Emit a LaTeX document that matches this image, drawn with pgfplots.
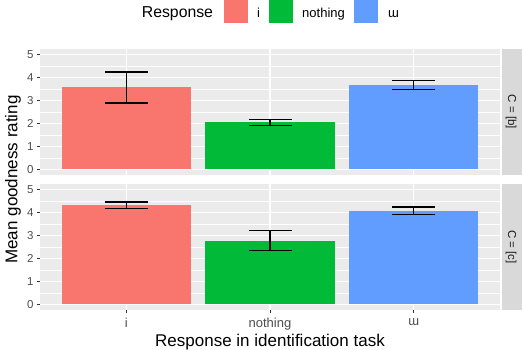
\documentclass[border=0pt]{standalone}
\usepackage{fontspec}
\setmainfont{Liberation Sans}
\usepackage{pgfplots}
\pgfplotsset{compat=1.18}
\definecolor{cI}{HTML}{F8766D}
\definecolor{cN}{HTML}{00BA38}
\definecolor{cU}{HTML}{619CFF}
\definecolor{panelbg}{HTML}{EBEBEB}
\definecolor{stripbg}{HTML}{D9D9D9}
\definecolor{ticklab}{HTML}{4D4D4D}
\definecolor{tickcol}{HTML}{333333}
\definecolor{striptext}{HTML}{1A1A1A}
\pgfplotsset{
  facet/.style={
    scale only axis, width=460pt, height=126pt,
    xmin=0.4, xmax=3.6, ymin=-0.25, ymax=5.25,
    axis background/.style={fill=panelbg},
    axis line style={draw=none},
    xtick={1,2,3}, ytick={0,1,2,3,4,5},
    minor ytick={0.5,1.5,2.5,3.5,4.5},
    grid=both,
    major grid style={white, line width=1.1pt},
    minor grid style={white, line width=0.55pt},
    tick align=outside, major tick length=3pt, minor tick length=0pt,
    xtick pos=bottom, ytick pos=left,
    tick style={tickcol, line width=0.8pt},
    yticklabel style={font=\fontsize{11.5}{12}\selectfont, text=ticklab},
    xticklabel style={font=\fontsize{13}{14}\selectfont, text=ticklab, yshift=-2pt},
    /pgf/number format/assume math mode=true,
  },
  bars/.style={ybar, bar width=129.4pt, bar shift=0pt, draw=none, fill=#1,
    error bars/.cd, y dir=both, y explicit,
    error bar style={black, line width=1.1pt},
    error mark options={black, line width=1.1pt, mark size=21.5pt, rotate=90}},
}
\begin{document}
\begin{tikzpicture}[x=1pt,y=1pt]
\path[use as bounding box] (0,0) rectangle (522,349);
% top panel: C = [b]
\begin{axis}[facet, at={(40pt,174pt)}, anchor=south west, xmajorticks=false, xticklabels={}]
\addplot[bars=cI] coordinates {(1,3.57) +- (0,0.675)};
\addplot[bars=cN] coordinates {(2,2.05) +- (0,0.135)};
\addplot[bars=cU] coordinates {(3,3.68) +- (0,0.205)};
\end{axis}
% bottom panel: C = [c]
\begin{axis}[facet, at={(40pt,39pt)}, anchor=south west,
  xticklabels={i,nothing,ɯ}]
\addplot[bars=cI] coordinates {(1,4.32) +- (0,0.145)};
\addplot[bars=cN] coordinates {(2,2.77) +- (0,0.435)};
\addplot[bars=cU] coordinates {(3,4.08) +- (0,0.165)};
\end{axis}
% strips
\fill[stripbg] (501.5,174) rectangle (522,300);
\fill[stripbg] (501.5,39) rectangle (522,165);
\node[rotate=-90, text=striptext, font=\fontsize{11.5}{12}\selectfont] at (511,237) {C = [b]};
\node[rotate=-90, text=striptext, font=\fontsize{11.5}{12}\selectfont] at (511,102) {C = [c]};
% axis titles
\node[rotate=90, font=\fontsize{17}{18}\selectfont] at (13,169.5) {Mean goodness rating};
\node[anchor=base, font=\fontsize{17}{18}\selectfont] at (270,2.3) {Response in identification task};
% legend
\node[anchor=base west, font=\fontsize{15.8}{17}\selectfont, inner sep=0pt] at (141.7,331.7) {Response};
\fill[cI] (224,326) rectangle (248,350);
\node[anchor=base west, font=\fontsize{13}{14}\selectfont, inner sep=0pt] at (257,331.7) {i};
\fill[cN] (269,326) rectangle (293,350);
\node[anchor=base west, font=\fontsize{13}{14}\selectfont, inner sep=0pt] at (302,331.7) {nothing};
\fill[cU] (354,326) rectangle (378,350);
\node[anchor=base west, font=\fontsize{13}{14}\selectfont, inner sep=0pt] at (388,331.7) {ɯ};
\end{tikzpicture}
\end{document}
